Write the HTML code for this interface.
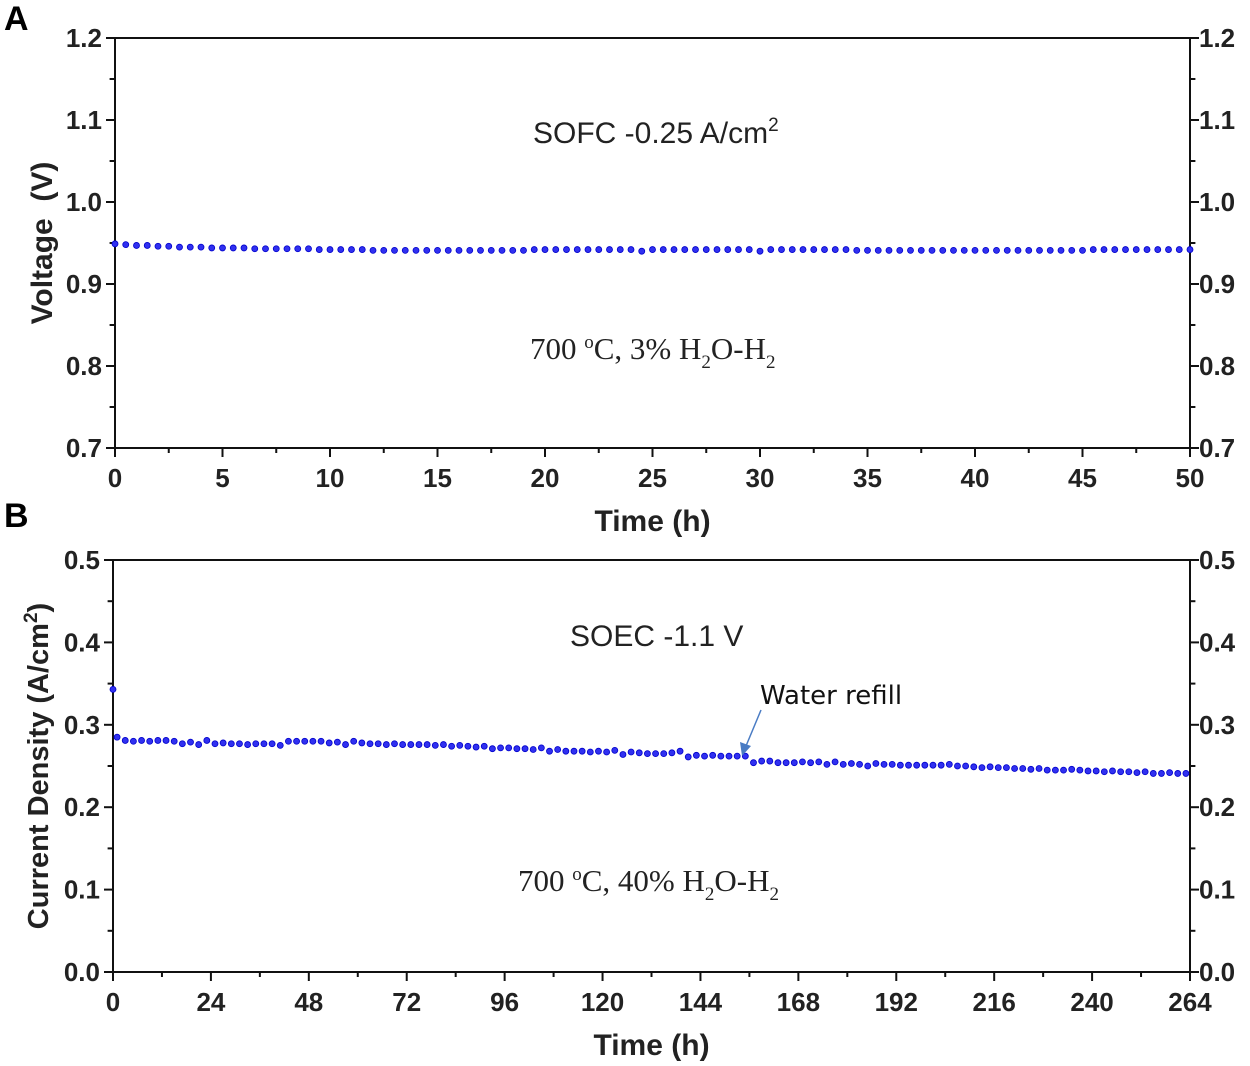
<!DOCTYPE html>
<html><head><meta charset="utf-8"><style>
html,body{margin:0;padding:0;background:#fff;}
svg{display:block;font-family:"Liberation Sans",Arial,sans-serif;}
.tk{font-weight:bold;font-size:26px;fill:#222;}
</style></head><body>
<svg id="fig" width="1250" height="1066" viewBox="0 0 1250 1066">
<text x="4" y="30" font-size="34" font-weight="bold">A</text>
<text x="4" y="527" font-size="34" font-weight="bold">B</text>
<g id="pa"></g>
<g id="pb"></g>
<text x="533" y="143" font-size="30" fill="#222">SOFC -0.25 A/cm<tspan dy="-12" font-size="19">2</tspan></text>
<text x="530" y="359" font-size="31" fill="#222" font-family="Liberation Serif,serif">700 <tspan dy="-11" font-size="19">o</tspan><tspan dy="11">C, 3% H</tspan><tspan dy="9" font-size="19">2</tspan><tspan dy="-9">O-H</tspan><tspan dy="9" font-size="19">2</tspan></text>
<text x="570" y="646" font-size="30" fill="#222">SOEC -1.1 V</text>
<text x="518" y="891" font-size="31" fill="#222" font-family="Liberation Serif,serif">700 <tspan dy="-11" font-size="19">o</tspan><tspan dy="11">C, 40% H</tspan><tspan dy="9" font-size="19">2</tspan><tspan dy="-9">O-H</tspan><tspan dy="9" font-size="19">2</tspan></text>
<text x="760" y="704" font-size="26" fill="#111" font-family="DejaVu Sans,sans-serif">Water refill</text>
<line x1="761" y1="710" x2="746" y2="746" stroke="#4a7cc4" stroke-width="1.5"/>
<polygon points="742,756 740,742 751,746" fill="#4a7cc4"/>
</svg>
<script>
const aTicksX=[0,5,10,15,20,25,30,35,40,45,50];
const aTicksY=[0.7,0.8,0.9,1.0,1.1,1.2];
const aTimeStep=0.5;
const aVoltage=[0.949,0.948,0.947,0.947,0.946,0.946,0.945,0.945,0.945,0.944,0.944,0.944,0.944,0.943,0.943,0.943,0.943,0.943,0.943,0.942,0.942,0.942,0.942,0.942,0.941,0.941,0.941,0.941,0.941,0.941,0.941,0.941,0.941,0.941,0.941,0.941,0.941,0.941,0.941,0.942,0.942,0.942,0.942,0.942,0.942,0.942,0.942,0.942,0.942,0.940,0.942,0.942,0.942,0.942,0.942,0.942,0.942,0.942,0.942,0.942,0.940,0.942,0.942,0.942,0.942,0.942,0.942,0.942,0.942,0.941,0.941,0.941,0.941,0.941,0.941,0.941,0.941,0.941,0.941,0.941,0.941,0.941,0.941,0.941,0.941,0.941,0.941,0.941,0.941,0.941,0.941,0.942,0.942,0.942,0.942,0.942,0.942,0.942,0.942,0.942,0.942];
const bTicksX=[0,24,48,72,96,120,144,168,192,216,240,264];
const bTicksY=[0.0,0.1,0.2,0.3,0.4,0.5];
const bTimes=[0,1,3,5,7,9,11,13,15,17,19,21,23,25,27,29,31,33,35,37,39,41,43,45,47,49,51,53,55,57,59,61,63,65,67,69,71,73,75,77,79,81,83,85,87,89,91,93,95,97,99,101,103,105,107,109,111,113,115,117,119,121,123,125,127,129,131,133,135,137,139,141,143,145,147,149,151,153,155,157,159,161,163,165,167,169,171,173,175,177,179,181,183,185,187,189,191,193,195,197,199,201,203,205,207,209,211,213,215,217,219,221,223,225,227,229,231,233,235,237,239,241,243,245,247,249,251,253,255,257,259,261,263];
const bCurrent=[0.343,0.285,0.281,0.280,0.281,0.280,0.281,0.281,0.280,0.277,0.279,0.276,0.281,0.277,0.278,0.277,0.277,0.276,0.277,0.277,0.277,0.275,0.280,0.280,0.280,0.280,0.280,0.278,0.279,0.276,0.280,0.278,0.277,0.277,0.276,0.277,0.276,0.276,0.276,0.276,0.275,0.276,0.274,0.275,0.274,0.273,0.274,0.271,0.272,0.272,0.271,0.271,0.270,0.272,0.268,0.270,0.268,0.268,0.268,0.267,0.268,0.267,0.269,0.264,0.267,0.266,0.265,0.265,0.265,0.266,0.268,0.261,0.263,0.262,0.263,0.262,0.262,0.262,0.262,0.254,0.256,0.256,0.254,0.254,0.254,0.255,0.254,0.255,0.252,0.255,0.252,0.253,0.252,0.250,0.253,0.252,0.252,0.251,0.251,0.251,0.251,0.251,0.251,0.252,0.250,0.250,0.249,0.248,0.249,0.248,0.248,0.247,0.247,0.246,0.247,0.245,0.245,0.245,0.246,0.245,0.244,0.244,0.243,0.244,0.243,0.243,0.242,0.243,0.241,0.241,0.242,0.241,0.241];
const NS='http://www.w3.org/2000/svg';
function mk(tag,attrs,parent){const e=document.createElementNS(NS,tag);for(const k in attrs)e.setAttribute(k,attrs[k]);parent.appendChild(e);return e;}
function panel(g,cfg){
  const sx=v=>cfg.x0+(v-cfg.xmin)/(cfg.xmax-cfg.xmin)*(cfg.x1-cfg.x0);
  const sy=v=>cfg.y1-(v-cfg.ymin)/(cfg.ymax-cfg.ymin)*(cfg.y1-cfg.y0);
  const fr=mk('rect',{x:cfg.x0,y:cfg.y0,width:cfg.x1-cfg.x0,height:cfg.y1-cfg.y0,fill:'none',stroke:'#111','stroke-width':2},g);
  
  
  cfg.tx.forEach((t,i)=>{
    const x=sx(t);
    const l=mk('line',{x1:x,y1:cfg.y1,x2:x,y2:cfg.y1+9,stroke:'#111','stroke-width':2},g);
    
    
    if(i<cfg.tx.length-1){const xm=sx((t+cfg.tx[i+1])/2);mk('line',{x1:xm,y1:cfg.y1,x2:xm,y2:cfg.y1+5,stroke:'#111','stroke-width':2},g);}
    const tt=mk('text',{x:x,y:cfg.y1+39,'text-anchor':'middle',class:'tk'},g);tt.textContent=t;
    
    
  });
  cfg.ty.forEach((t,i)=>{
    const y=sy(t);
    [[cfg.x0,-9],[cfg.x1,9]].forEach(([bx,d])=>{
      mk('line',{x1:bx,y1:y,x2:bx+d,y2:y,stroke:'#111','stroke-width':2},g);
      if(i<cfg.ty.length-1){const ym=sy((t+cfg.ty[i+1])/2);mk('line',{x1:bx,y1:ym,x2:bx+d*0.6,y2:ym,stroke:'#111','stroke-width':2},g);}
    });
    const s=t.toFixed(1);
    const l1=mk('text',{x:cfg.x0-13,y:y+9,'text-anchor':'end',class:'tk'},g);l1.textContent=s;
    
    
    const l2=mk('text',{x:cfg.x1+9,y:y+9,'text-anchor':'start',class:'tk'},g);l2.textContent=s;
    
    
  });
  cfg.xs.forEach((x,i)=>{
    const c=mk('circle',{cx:sx(x),cy:sy(cfg.ys[i]),r:3,fill:'#3030f0',stroke:'#0000cc','stroke-width':0.8},g);
    
    
  });
  const xt=mk('text',{x:(cfg.x0+cfg.x1)/2,y:cfg.y1+83,'text-anchor':'middle','font-size':30,'font-weight':'bold',fill:'#222'},g);xt.textContent='Time (h)';
  
  
  const yt=mk('text',{x:0,y:0,'text-anchor':'middle','font-size':cfg.yfs,'font-weight':'bold',fill:'#222',transform:`translate(${cfg.ytx},${(cfg.y0+cfg.y1)/2}) rotate(-90)`},g);
  yt.innerHTML=cfg.ytitle;
  
  
}
panel(document.getElementById('pa'),{x0:115,x1:1190,y0:38,y1:448,xmin:0,xmax:50,ymin:0.7,ymax:1.2,tx:aTicksX,ty:aTicksY,xs:aVoltage.map((v,i)=>i*aTimeStep),ys:aVoltage,ytx:52,yfs:30,ytitle:'Voltage&#160; (V)'});
panel(document.getElementById('pb'),{x0:113,x1:1190,y0:560,y1:972,xmin:0,xmax:264,ymin:0,ymax:0.5,tx:bTicksX,ty:bTicksY,xs:bTimes,ys:bCurrent,ytx:48,yfs:29,ytitle:'Current Density (A/cm<tspan dy="-11" font-size="19">2</tspan><tspan dy="11">)</tspan>'});
</script>
</body></html>
